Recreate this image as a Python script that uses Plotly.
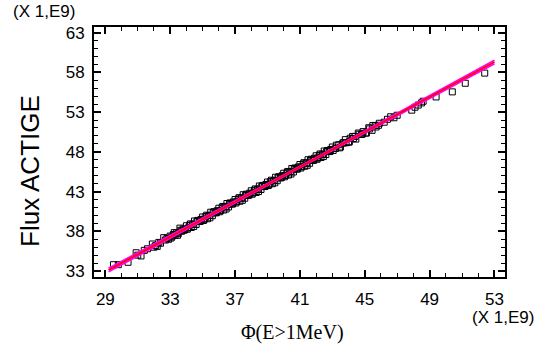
import plotly.graph_objects as go

# Scatter data (units of 1E9)
phi = [29.5, 29.8, 30.4, 30.9, 31.0, 31.2, 31.4, 31.6, 31.9, 32.0, 32.1, 32.2, 32.3, 32.4,
       32.6, 32.7, 32.8, 32.9, 33.0, 33.1, 33.2, 33.3, 33.4, 33.5, 33.6, 33.7, 33.8, 33.9,
       34.0, 34.1, 34.2, 34.3, 34.4, 34.5, 34.6, 34.7, 34.8, 34.9,
       35.0, 35.1, 35.2, 35.3, 35.4, 35.5, 35.6, 35.7, 35.8, 35.9,
       36.0, 36.1, 36.2, 36.3, 36.4, 36.5, 36.6, 36.7, 36.8, 36.9,
       37.0, 37.1, 37.2, 37.3, 37.4, 37.5, 37.6, 37.7, 37.8, 37.9,
       38.0, 38.1, 38.2, 38.3, 38.4, 38.5, 38.6, 38.7, 38.8, 38.9,
       39.0, 39.1, 39.2, 39.3, 39.4, 39.5, 39.6, 39.7, 39.8, 39.9,
       40.0, 40.1, 40.2, 40.3, 40.4, 40.5, 40.6, 40.7, 40.8, 40.9,
       41.0, 41.1, 41.2, 41.3, 41.4, 41.5, 41.6, 41.7, 41.8, 41.9,
       42.0, 42.1, 42.2, 42.3, 42.4, 42.5, 42.6, 42.7, 42.8, 42.9,
       43.0, 43.2, 43.4, 43.5, 43.7, 43.8, 44.0, 44.1, 44.3, 44.4,
       44.6, 44.8, 44.9, 45.1, 45.3, 45.5, 45.7, 45.9, 46.2, 46.4,
       46.6, 46.8, 47.0, 47.9, 48.1, 48.3, 48.5, 48.6, 49.4, 50.4,
       51.2, 52.4]
flux = [33.8, 33.8, 34.1, 35.3, 35.0, 34.9, 35.6, 35.8, 36.4, 36.0, 36.2, 36.1, 36.6, 36.5,
        37.2, 36.9, 37.1, 37.0, 37.4, 37.3, 37.6, 37.5, 37.8, 37.7, 38.4, 38.0, 38.3, 38.2,
        38.70, 38.41, 38.77, 38.48, 38.89, 39.30, 38.86, 39.37, 39.23, 39.49,
        39.80, 39.51, 39.87, 39.58, 39.99, 40.40, 39.96, 40.47, 40.33, 40.59,
        40.90, 40.61, 40.97, 40.68, 41.09, 41.50, 41.06, 41.57, 41.43, 41.69,
        42.00, 41.71, 42.07, 41.78, 42.19, 42.60, 42.16, 42.67, 42.53, 42.79,
        43.10, 42.81, 43.17, 42.88, 43.29, 43.70, 43.26, 43.77, 43.63, 43.89,
        44.20, 43.91, 44.27, 43.98, 44.39, 44.80, 44.36, 44.87, 44.73, 44.99,
        45.30, 45.01, 45.37, 45.08, 45.49, 45.90, 45.46, 45.97, 45.83, 46.09,
        46.40, 46.11, 46.47, 46.18, 46.59, 47.00, 46.56, 47.07, 46.93, 47.19,
        47.50, 47.21, 47.57, 47.28, 47.69, 48.10, 47.66, 48.17, 48.03, 48.29,
        48.60, 48.42, 48.89, 48.60, 49.12, 49.53, 49.20, 49.71, 49.68, 49.94,
        50.36, 50.18, 50.54, 50.36, 50.88, 51.30, 51.12, 51.59, 51.72, 52.09,
        52.41, 52.28, 52.60, 53.24, 53.61, 53.88, 54.15, 54.36, 54.90, 55.54,
        56.62, 57.90]

# Additional observations filling the dense middle band
phi_b = [33.05, 33.25, 33.45, 33.65, 33.85, 34.05, 34.25, 34.45, 34.65, 34.85,
         35.05, 35.25, 35.45, 35.65, 35.85, 36.05, 36.25, 36.45, 36.65, 36.85,
         37.05, 37.25, 37.45, 37.65, 37.85, 38.05, 38.25, 38.45, 38.65, 38.85,
         39.05, 39.25, 39.45, 39.65, 39.85, 40.05, 40.25, 40.45, 40.65, 40.85,
         41.05, 41.25, 41.45, 41.65, 41.85, 42.05, 42.25, 42.45, 42.65, 42.85,
         43.05, 43.25, 43.45, 43.65, 43.85, 44.05, 44.25, 44.45, 44.65, 44.85,
         45.05, 45.25, 45.45, 45.65, 45.85]
flux_b = [37.16, 37.83, 37.50, 38.12, 38.14, 38.26, 38.93, 38.60, 39.22, 39.24,
          39.36, 40.03, 39.70, 40.32, 40.34, 40.46, 41.13, 40.80, 41.42, 41.44,
          41.56, 42.23, 41.90, 42.52, 42.54, 42.66, 43.33, 43.00, 43.62, 43.64,
          43.76, 44.43, 44.10, 44.72, 44.74, 44.86, 45.53, 45.20, 45.82, 45.84,
          45.96, 46.63, 46.30, 46.92, 46.94, 47.06, 47.73, 47.40, 48.02, 48.04,
          48.16, 48.83, 48.50, 49.12, 49.14, 49.26, 49.93, 49.60, 50.22, 50.24,
          50.36, 51.03, 50.70, 51.32, 51.34]

# Fitted line and limits
fit_x = [29.2, 53.0]
fit_y = [33.12, 59.3]
lim_x = [29.2, 41.0, 53.0]
lim_upper = [33.34, 46.19, 59.52]
lim_lower = [32.90, 46.01, 59.08]

x_ticks = [29, 33, 37, 41, 45, 49, 53]
y_ticks = [33, 38, 43, 48, 53, 58, 63]

fig = go.Figure()
fig.add_trace(go.Scatter(x=phi + phi_b, y=flux + flux_b, mode="markers",
                         marker=dict(symbol="square-open", size=6, color="black",
                                     line=dict(width=1, color="black"))))
fig.add_trace(go.Scatter(x=lim_x, y=lim_upper, mode="lines",
                         line=dict(color="#FF00FF", width=1.8)))
fig.add_trace(go.Scatter(x=lim_x, y=lim_lower, mode="lines",
                         line=dict(color="#FF00FF", width=1.8)))
fig.add_trace(go.Scatter(x=fit_x, y=fit_y, mode="lines",
                         line=dict(color="#FF0000", width=1.8)))

axis_common = dict(showgrid=False, zeroline=False, showline=True, linecolor="black",
                   linewidth=2, mirror="allticks", ticks="inside", ticklen=7,
                   tickwidth=1.5, tickcolor="black",
                   tickfont=dict(family="Liberation Sans, Arial", size=17, color="black"))

fig.update_layout(
    width=543, height=350,
    margin=dict(l=94, r=38, t=27, b=73),
    paper_bgcolor="white", plot_bgcolor="white",
    showlegend=False,
    xaxis=dict(range=[28.3, 53.65], tickmode="array", tickvals=x_ticks,
               ticktext=[str(v) for v in x_ticks],
               minor=dict(dtick=1, ticks="inside", ticklen=4, tickwidth=1.2, tickcolor="black"),
               ticklabelstandoff=6, **axis_common),
    yaxis=dict(range=[32.25, 63.7], tickmode="array", tickvals=y_ticks,
               ticktext=[str(v) for v in y_ticks],
               minor=dict(dtick=1, ticks="inside", ticklen=4, tickwidth=1.2, tickcolor="black"),
               ticklabelstandoff=4, **axis_common),
    annotations=[
        dict(text="Flux ACTIGE", xref="paper", yref="paper", x=-0.156, y=0.424,
             textangle=-90, showarrow=False, xanchor="center", yanchor="middle",
             font=dict(family="Liberation Sans, Arial", size=26, color="black")),
        dict(text="Φ(E>1MeV)", xref="paper", yref="paper", x=0.482, y=-0.222,
             showarrow=False, xanchor="center", yanchor="middle",
             font=dict(family="Liberation Serif, Times New Roman", size=20, color="black")),
        dict(text="(X 1,E9)", xref="paper", yref="paper", x=-0.122, y=1.06,
             showarrow=False, xanchor="center", yanchor="middle",
             font=dict(family="Liberation Sans, Arial", size=17, color="black")),
        dict(text="(X 1,E9)", xref="paper", yref="paper", x=0.995, y=-0.162,
             showarrow=False, xanchor="center", yanchor="middle",
             font=dict(family="Liberation Sans, Arial", size=17, color="black")),
    ],
)

fig.write_html("out.html", config={"displayModeBar": False},
               post_script="document.body.style.margin='0';document.body.style.padding='0';")
